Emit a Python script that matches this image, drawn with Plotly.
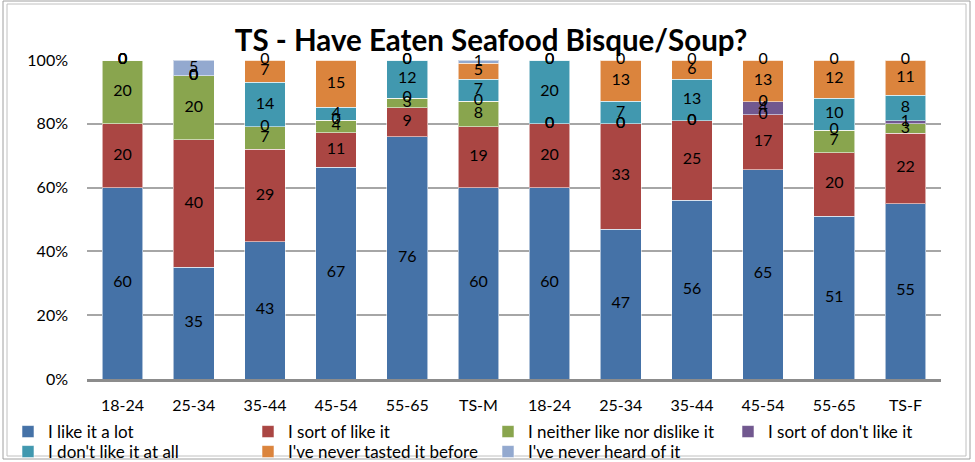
import numpy as np
import plotly.graph_objects as go

categories = ["18-24", "25-34", "35-44", "45-54", "55-65", "TS-M",
              "18-24", "25-34", "35-44", "45-54", "55-65", "TS-F"]
series_names = ["I like it a lot", "I sort of like it", "I neither like nor dislike it",
                "I sort of don't like it", "I don't like it at all",
                "I've never tasted it before", "I've never heard of it"]
like_a_lot   = [60, 35, 43, 67, 76, 60, 60, 47, 56, 65, 51, 55]
sort_of_like = [20, 40, 29, 11,  9, 19, 20, 33, 25, 17, 20, 22]
neither      = [20, 20,  7,  4,  3,  8,  0,  0,  0,  0,  7,  3]
sort_of_dont = [ 0,  0,  0,  0,  0,  0,  0,  0,  0,  4,  0,  1]
dont_like    = [ 0,  0, 14,  4, 12,  7, 20,  7, 13,  0, 10,  8]
never_tasted = [ 0,  0,  7, 15,  0,  5,  0, 13,  6, 13, 12, 11]
never_heard  = [ 0,  5,  0,  0,  0,  1,  0,  0,  0,  0,  0,  0]
colors = ["#4572A7", "#AA4643", "#89A54E", "#71588F", "#4198AF", "#DB843D", "#93A9CF"]
y_ticks = [0, 20, 40, 60, 80, 100]
y_tick_labels = ["0%", "20%", "40%", "60%", "80%", "100%"]

series = [like_a_lot, sort_of_like, neither, sort_of_dont, dont_like, never_tasted, never_heard]
vals = np.array(series, dtype=float)
share = vals / vals.sum(axis=0) * 100.0
tops = np.cumsum(share, axis=0)
mids = tops - share / 2.0
xpos = list(range(len(categories)))

FONT = "Lato, Carlito, Calibri, sans-serif"
L, R, T, B = 87, 941, 60, 379
W, H = 975, 462
def px_x(p):
    return (p - L) / (R - L)
def px_y(p):
    return (B - p) / (B - T)

legend_ids = ["legend"] + ["legend%d" % (k + 2) for k in range(len(series_names) - 1)]
fig = go.Figure()
for i, name in enumerate(series_names):
    fig.add_trace(go.Bar(
        x=xpos, y=share[i], name=name, legend=legend_ids[i],
        marker=dict(color=colors[i], line=dict(color="rgba(255,255,255,0.55)", width=1)),
        hoverinfo="skip"))
for i, name in enumerate(series_names):
    fig.add_trace(go.Scatter(
        x=xpos, y=mids[i], mode="text", text=[str(v) for v in series[i]],
        textfont=dict(family=FONT, size=16, color="black"),
        showlegend=False, cliponaxis=False, hoverinfo="skip"))

shapes = [
    dict(type="rect", xref="paper", yref="paper", x0=px_x(3), x1=px_x(970), y0=px_y(459), y1=px_y(1),
         line=dict(color="#A0A0A0", width=1)),
    dict(type="rect", xref="paper", yref="paper", x0=px_x(7), x1=px_x(966), y0=px_y(456), y1=px_y(4),
         line=dict(color="#C0C0C0", width=1)),
]

legend_common = dict(orientation="v", xref="paper", yref="paper",
                     xanchor="left", yanchor="top",
                     font=dict(family=FONT, size=17, color="black"),
                     bgcolor="rgba(0,0,0,0)", borderwidth=0)
legend_layout = {}
for i, lid in enumerate(legend_ids):
    col, row = i % 4, i // 4
    legend_layout[lid] = dict(legend_common, x=px_x(8 + 240 * col), y=px_y(414 + 20 * row))

fig.update_layout(
    width=W, height=H,
    margin=dict(l=L, r=W - R, t=T, b=H - B, autoexpand=False),
    barmode="stack", bargap=0.43,
    plot_bgcolor="white", paper_bgcolor="white",
    font=dict(family=FONT, size=16, color="black"),
    title=dict(text="<b>TS - Have Eaten Seafood Bisque/Soup?</b>",
               font=dict(family=FONT, size=29.5, color="black"),
               xref="container", yref="container", x=491 / W, y=1 - 41 / H,
               xanchor="center", yanchor="middle"),
    xaxis=dict(tickmode="array", tickvals=xpos, ticktext=categories,
               range=[-0.5, len(categories) - 0.5], showgrid=False,
               showline=True, linecolor="#8C8C8C", linewidth=2.5,
               ticks="", ticklabelstandoff=10,
               tickfont=dict(family=FONT, size=16, color="black")),
    yaxis=dict(range=[0, 100], tickmode="array", tickvals=y_ticks, ticktext=y_tick_labels,
               showgrid=True, gridcolor="#A6A6A6", gridwidth=1.5,
               zeroline=False, showline=False, ticks="", ticklabelstandoff=18,
               tickfont=dict(family=FONT, size=16, color="black")),
    shapes=shapes,
    showlegend=True,
    **legend_layout,
)
fig.write_html("out.html", config={"displayModeBar": False},
               post_script="document.body.style.margin='0';")
